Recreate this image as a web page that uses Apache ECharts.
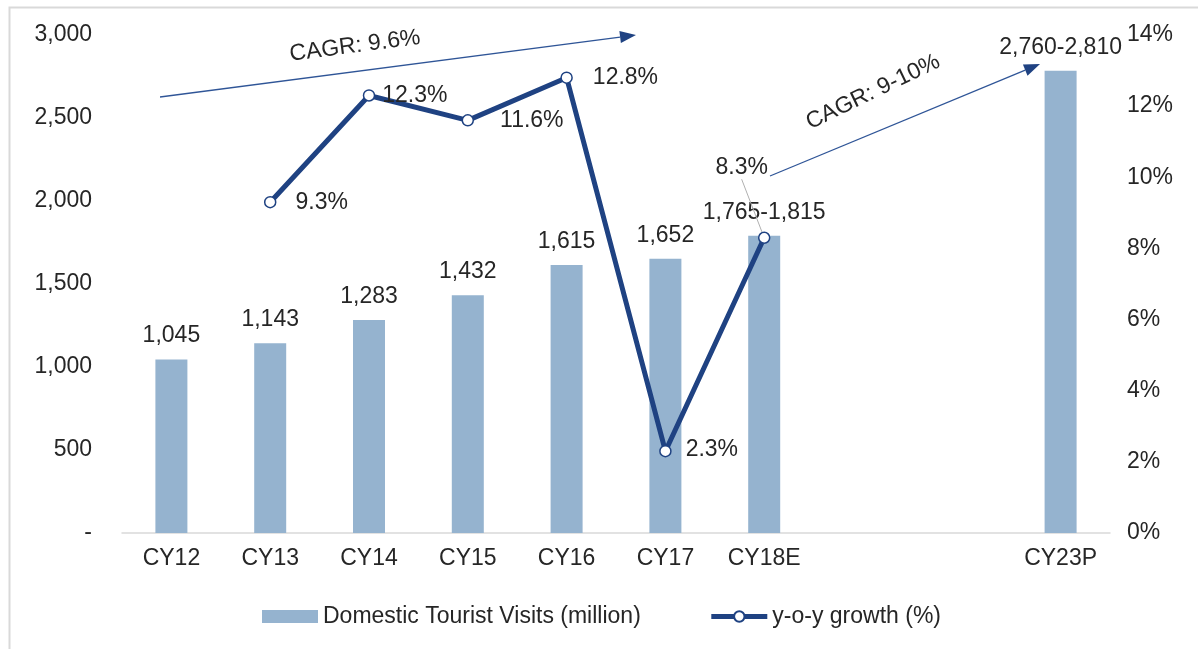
<!DOCTYPE html>
<html lang="en">
<head>
    <meta charset="UTF-8">
    <title>Domestic Tourist Visits</title>
    <style>
        html, body { margin: 0; padding: 0; background: #fff; }
        #chart-wrap { width: 1198px; height: 649px; }
    </style>
</head>
<body>
<div id="chart-wrap"></div>
<script src="https://cdn.jsdelivr.net/npm/echarts@6/dist/echarts.min.js"></script>
<script>
    // data
    var categories = ['CY12', 'CY13', 'CY14', 'CY15', 'CY16', 'CY17', 'CY18E', '', '', 'CY23P'];
    var visits = [1045, 1143, 1283, 1432, 1615, 1652, 1790, null, null, 2785];
    var visitLabels = ['1,045', '1,143', '1,283', '1,432', '1,615', '1,652', '1,765-1,815', '', '', '2,760-2,810'];
    var growth = [null, 9.3, 12.3, 11.6, 12.8, 2.3, 8.3, null, null, null];
    var leftTicks = {min: 0, max: 3000, interval: 500};
    var rightTicks = {min: 0, max: 14, interval: 2};

    var font = 'Liberation Sans, Arial, sans-serif';
    var fs = 23;
    var textColor = '#262626';
    var arrowColor = '#2f5597';

    // per-point nudges of the growth labels, like in the picture
    var growthLabelShift = {1: [14, 0], 2: [2, 0], 3: [21, 0], 4: [15, 0], 5: [9, -2], 6: [-60, -70]};

    var chart = echarts.init(document.getElementById('chart-wrap'));

    // arrow = line + triangle head
    function arrow(x1, y1, x2, y2) {
        var a = Math.atan2(y2 - y1, x2 - x1);
        var len = 16, half = 6;
        var bx = x2 - len * Math.cos(a), by = y2 - len * Math.sin(a);
        var px = -Math.sin(a) * half, py = Math.cos(a) * half;
        return [
            {type: 'line', shape: {x1: x1, y1: y1, x2: bx, y2: by},
                style: {stroke: arrowColor, lineWidth: 1.3}},
            {type: 'polygon', shape: {points: [[x2, y2], [bx + px, by + py], [bx - px, by - py]]},
                style: {fill: '#1f4282'}}
        ];
    }

    var growthData = growth.map(function (v, i) {
        if (i === 6) return {value: v, labelLine: {show: true, lineStyle: {color: '#b0b0b0', width: 1}}};
        return v;
    });

    var option = {
        animation: false,
        textStyle: {fontFamily: font},
        grid: {left: 122, right: 88, top: 35, bottom: 116},
        legend: {
            top: 600,
            left: 257,
            itemWidth: 56,
            itemHeight: 13,
            itemGap: 68,
            textStyle: {fontSize: fs, color: textColor, fontFamily: font},
            data: [
                {name: 'Domestic Tourist Visits (million)', icon: 'rect'},
                {name: 'y-o-y growth (%)', lineStyle: {width: 5, color: '#1f4282'}}
            ]
        },
        xAxis: {
            type: 'category',
            data: categories,
            axisLine: {lineStyle: {color: '#d9d9d9', width: 1.5}},
            axisTick: {show: false},
            axisLabel: {fontSize: fs, color: textColor, margin: 14, interval: 0}
        },
        yAxis: [
            {
                type: 'value',
                min: leftTicks.min, max: leftTicks.max, interval: leftTicks.interval,
                splitLine: {show: false},
                axisLabel: {
                    fontSize: fs, color: textColor, margin: 30,
                    formatter: function (v) { return v === 0 ? '-' : v.toLocaleString('en-US'); }
                }
            },
            {
                type: 'value',
                min: rightTicks.min, max: rightTicks.max, interval: rightTicks.interval,
                splitLine: {show: false},
                axisLabel: {fontSize: fs, color: textColor, margin: 17, formatter: '{value}%'}
            }
        ],
        series: [
            {
                name: 'Domestic Tourist Visits (million)',
                type: 'bar',
                data: visits,
                barWidth: 32,
                itemStyle: {color: '#95b3cf'},
                label: {
                    show: true, position: 'top', distance: 12,
                    fontSize: fs, color: textColor,
                    formatter: function (p) { return visitLabels[p.dataIndex]; }
                }
            },
            {
                name: 'y-o-y growth (%)',
                type: 'line',
                yAxisIndex: 1,
                data: growthData,
                symbol: 'circle',
                symbolSize: 11,
                lineStyle: {color: '#1f4282', width: 5},
                itemStyle: {color: '#fff', borderColor: '#1f4282', borderWidth: 1.5},
                label: {
                    show: true, position: 'right', distance: 5,
                    fontSize: fs, color: textColor,
                    formatter: '{c}%'
                },
                labelLayout: function (p) {
                    var s = growthLabelShift[p.dataIndex];
                    return s ? {dx: s[0], dy: s[1]} : {};
                },
                labelLine: {show: false}
            }
        ],
        graphic: [
            {type: 'rect', left: 7, top: 5, shape: {width: 1190, height: 660},
                style: {fill: null, stroke: '#d9d9d9', lineWidth: 2}, silent: true},
            {type: 'group', children: arrow(160, 97, 636, 35)},
            {type: 'group', children: arrow(770, 176, 1040, 64)},
            {type: 'text', x: 355, y: 46, rotation: 0.13,
                style: {text: 'CAGR: 9.6%', font: fs + 'px ' + font, fill: textColor,
                    textAlign: 'center', textVerticalAlign: 'middle'}},
            {type: 'text', x: 873, y: 92, rotation: 0.45,
                style: {text: 'CAGR: 9-10%', font: fs + 'px ' + font, fill: textColor,
                    textAlign: 'center', textVerticalAlign: 'middle'}}
        ]
    };

    chart.setOption(option);
</script>
</body>
</html>
